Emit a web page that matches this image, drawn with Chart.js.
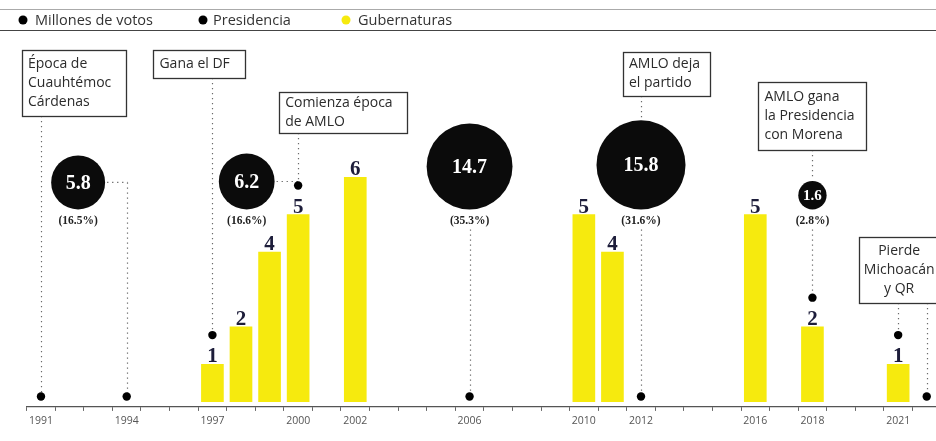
<!DOCTYPE html>
<html>
<head>
<meta charset="utf-8">
<script src="https://cdn.jsdelivr.net/npm/chart.js@4.4.1/dist/chart.umd.min.js"></script>
<style>
html, body { margin: 0; padding: 0; background: #fff; }
#wrap { width: 936px; height: 441px; position: relative; }
</style>
</head>
<body>
<div id="wrap"><canvas id="grafica"></canvas></div>
<script>
// gubernaturas ganadas por año
var anios = [1997, 1998, 1999, 2000, 2002, 2010, 2011, 2016, 2018, 2021];
var gubernaturas = [1, 2, 4, 5, 6, 5, 4, 5, 2, 1];

// elecciones presidenciales: millones de votos y porcentaje
var aniosPresidencia = [1994, 2000, 2006, 2012, 2018];
var votos = [5.8, 6.2, 14.7, 15.8, 1.6];
var porcentajes = ['(16.5%)', '(16.6%)', '(35.3%)', '(31.6%)', '(2.8%)'];
// lugar de cada círculo en el eje (1994 y 2000 se recorren a la izquierda)
var posCirculos = [1992.3, 1998.2, 2006, 2012, 2018];

// puntos sobre la línea de tiempo
var marcas = [1991, 1994, 1997, 2000, 2006, 2012, 2018, 2021, 2022];

var etiquetasEje = [1991, 1994, 1997, 2000, 2002, 2006, 2010, 2012, 2016, 2018, 2021];

var notas = [
    ['Época de', 'Cuauhtémoc', 'Cárdenas'],
    ['Gana el DF'],
    ['Comienza época', 'de AMLO'],
    ['AMLO deja', 'el partido'],
    ['AMLO gana', 'la Presidencia', 'con Morena'],
    ['Pierde', 'Michoacán', 'y QR']
];
var notasAnios = [[1991], [1997], [2000], [2012], [2018], [2021, 2022]];

// cajas de las notas: corrimiento respecto a su línea, tope, tamaño
var cajas = [
    { dx: -19, top: 50, w: 104, h: 66, align: 'left' },
    { dx: -59, top: 50, w: 92, h: 28, align: 'left' },
    { dx: -19, top: 92, w: 128, h: 41, align: 'left' },
    { dx: -18, top: 52, w: 87, h: 44, align: 'left' },
    { dx: -54, top: 82, w: 108, h: 68, align: 'left' },
    { dx: -39, top: 237, w: 80, h: 66, align: 'center' }
];

var AMARILLO = '#f6ea0e';
var baseCirculos = 5.14;   // todos los círculos se apoyan aquí
var interlinea = 19;

function valorGuber(anio) {
    var i = anios.indexOf(anio);
    return i >= 0 ? gubernaturas[i] : 0;
}

// el punto queda encima del número de la barra, o al ras si no hay barra
var datosMarcas = marcas.map(function (a) {
    var v = valorGuber(a);
    return { x: a, y: v ? v + 0.78 : 0.14 };
});

Chart.defaults.font.family = "'Open Sans', sans-serif";
Chart.defaults.color = '#333';

function notaDeAnio(anio) {
    for (var i = 0; i < notasAnios.length; i++) {
        if (notasAnios[i].indexOf(anio) >= 0) return i;
    }
    return -1;
}

function cajaPx(chart, i) {
    var x = chart.scales.x.getPixelForValue(notasAnios[i][0]);
    var c = cajas[i];
    return { left: x + c.dx, top: c.top, w: c.w, h: c.h, bottom: c.top + c.h };
}

function punteada(ctx, x1, y1, x2, y2) {
    ctx.beginPath();
    ctx.moveTo(x1, y1);
    ctx.lineTo(x2, y2);
    ctx.stroke();
}

var linea = {
    id: 'linea',
    afterDatasetsUpdate: function (chart) {
        var base = chart.scales.y.getPixelForValue(baseCirculos);
        chart.getDatasetMeta(1).data.forEach(function (el) {
            el.y = base - el.options.radius;
        });
    },
    beforeDatasetsDraw: function (chart) {
        var ctx = chart.ctx;
        var xs = chart.scales.x;
        var circulos = chart.getDatasetMeta(1).data;
        var puntos = chart.getDatasetMeta(2).data;
        ctx.save();
        ctx.strokeStyle = '#6a6a6a';
        ctx.lineWidth = 1.2;
        ctx.setLineDash([1.3, 3.7]);
        marcas.forEach(function (anio, k) {
            var px = Math.round(xs.getPixelForValue(anio)) + 0.5;
            var abajo = puntos[k].y;
            var n = notaDeAnio(anio);
            var iP = aniosPresidencia.indexOf(anio);
            var circ = iP >= 0 ? circulos[iP] : null;
            var centrado = circ && posCirculos[iP] === anio;
            var r = circ ? circ.options.radius : 0;
            var arriba;
            if (n >= 0) arriba = cajaPx(chart, n).bottom;
            else if (circ && !centrado) arriba = circ.y;
            else if (circ) arriba = circ.y + r + 20;
            else return;
            if (circ && !centrado) {
                punteada(ctx, circ.x + r + 2, circ.y, px, circ.y);
            }
            if (centrado && n >= 0) {
                punteada(ctx, px, arriba, px, circ.y - r - 1);
                punteada(ctx, px, circ.y + r + 20, px, abajo);
            } else {
                punteada(ctx, px, arriba, px, abajo);
            }
        });
        ctx.restore();
    },
    afterDatasetsDraw: function (chart) {
        var ctx = chart.ctx;
        ctx.save();
        ctx.textAlign = 'center';

        // número de gubernaturas sobre cada barra
        ctx.fillStyle = '#1d1d3a';
        ctx.font = "bold 21px 'Liberation Serif'";
        ctx.textBaseline = 'alphabetic';
        chart.getDatasetMeta(0).data.forEach(function (el, i) {
            ctx.fillText(String(gubernaturas[i]), el.x, el.y - 2);
        });

        // votos dentro del círculo y porcentaje debajo
        chart.getDatasetMeta(1).data.forEach(function (el, i) {
            var r = el.options.radius;
            ctx.fillStyle = '#fff';
            ctx.font = 'bold ' + (r < 20 ? 15 : 20) + "px 'Liberation Serif'";
            ctx.textBaseline = 'middle';
            ctx.fillText(votos[i].toFixed(1), el.x, el.y + 1);
            ctx.fillStyle = '#222';
            ctx.font = "bold 11.5px 'Liberation Serif'";
            ctx.fillText(porcentajes[i], el.x, el.y + r + 12);
        });
        ctx.restore();
    },
    afterDraw: function (chart) {
        var ctx = chart.ctx;
        ctx.save();

        // cajas de notas
        notas.forEach(function (lineas, i) {
            var b = cajaPx(chart, i);
            ctx.fillStyle = '#fff';
            ctx.fillRect(b.left, b.top, b.w, b.h);
            ctx.strokeStyle = '#333';
            ctx.lineWidth = 1.3;
            ctx.strokeRect(Math.round(b.left) + 0.5, b.top + 0.5, b.w, b.h);
            ctx.fillStyle = '#2b2b2b';
            ctx.font = "14px 'Open Sans'";
            ctx.textBaseline = 'middle';
            var y0 = b.top + b.h / 2 - (lineas.length - 1) * interlinea / 2;
            lineas.forEach(function (t, j) {
                if (cajas[i].align === 'center') {
                    ctx.textAlign = 'center';
                    ctx.fillText(t, b.left + b.w / 2, y0 + j * interlinea);
                } else {
                    ctx.textAlign = 'left';
                    ctx.fillText(t, b.left + 6, y0 + j * interlinea);
                }
            });
        });

        // leyenda con sus filetes
        ctx.strokeStyle = '#aaa';
        ctx.lineWidth = 1;
        filete(ctx, 0, 9.5, 936);
        ctx.strokeStyle = '#444';
        filete(ctx, 0, 30.5, 936);
        var items = [
            { x: 23, tx: 35, color: '#000', txt: 'Millones de votos' },
            { x: 203, tx: 213, color: '#000', txt: 'Presidencia' },
            { x: 346, tx: 358, color: AMARILLO, txt: 'Gubernaturas' }
        ];
        ctx.font = "14.5px 'Open Sans'";
        ctx.textAlign = 'left';
        ctx.textBaseline = 'middle';
        items.forEach(function (it) {
            ctx.fillStyle = it.color;
            ctx.beginPath();
            ctx.arc(it.x, 20, 4.5, 0, Math.PI * 2);
            ctx.fill();
            ctx.fillStyle = '#333';
            ctx.fillText(it.txt, it.tx, 21);
        });
        ctx.restore();
    }
};

function filete(ctx, x, y, w) {
    ctx.beginPath();
    ctx.moveTo(x, y);
    ctx.lineTo(x + w, y);
    ctx.stroke();
}

var grafica = new Chart(document.getElementById('grafica'), {
    data: {
        datasets: [{
            type: 'bar',
            label: 'Gubernaturas',
            data: anios.map(function (a, i) { return { x: a, y: gubernaturas[i] }; }),
            backgroundColor: AMARILLO,
            barThickness: 22,
            order: 3
        }, {
            type: 'bubble',
            label: 'Millones de votos',
            data: posCirculos.map(function (a, i) {
                return { x: a, y: baseCirculos, r: 11.2 * Math.sqrt(votos[i]) };
            }),
            backgroundColor: '#0b0b0b',
            borderWidth: 0,
            order: 2
        }, {
            type: 'scatter',
            label: 'Presidencia',
            data: datosMarcas,
            backgroundColor: '#000',
            pointRadius: 4.2,
            borderWidth: 0,
            order: 1
        }]
    },
    options: {
        responsive: true,
        maintainAspectRatio: false,
        animation: false,
        layout: {
            autoPadding: false,
            padding: { left: 26.7, right: 0.7, top: 27.6, bottom: 9.5 }
        },
        plugins: {
            legend: { display: false },
            tooltip: { enabled: false }
        },
        scales: {
            x: {
                type: 'linear',
                offset: false,
                min: 1990.5,
                max: 2022.3,
                afterBuildTicks: function (scale) {
                    var t = [];
                    for (var a = 1991; a <= 2022; a++) t.push({ value: a });
                    scale.ticks = t;
                },
                ticks: {
                    autoSkip: false,
                    maxRotation: 0,
                    padding: 4,
                    color: '#555',
                    font: { size: 10.5 },
                    callback: function (v) {
                        return etiquetasEje.indexOf(v) >= 0 ? String(v) : '';
                    }
                },
                grid: {
                    offset: true,
                    drawOnChartArea: false,
                    tickLength: 4,
                    color: '#666'
                },
                border: { display: true, color: '#555', width: 1.2 }
            },
            y: {
                display: false,
                min: -0.14,
                max: 10
            }
        }
    },
    plugins: [linea]
});
</script>
</body>
</html>
